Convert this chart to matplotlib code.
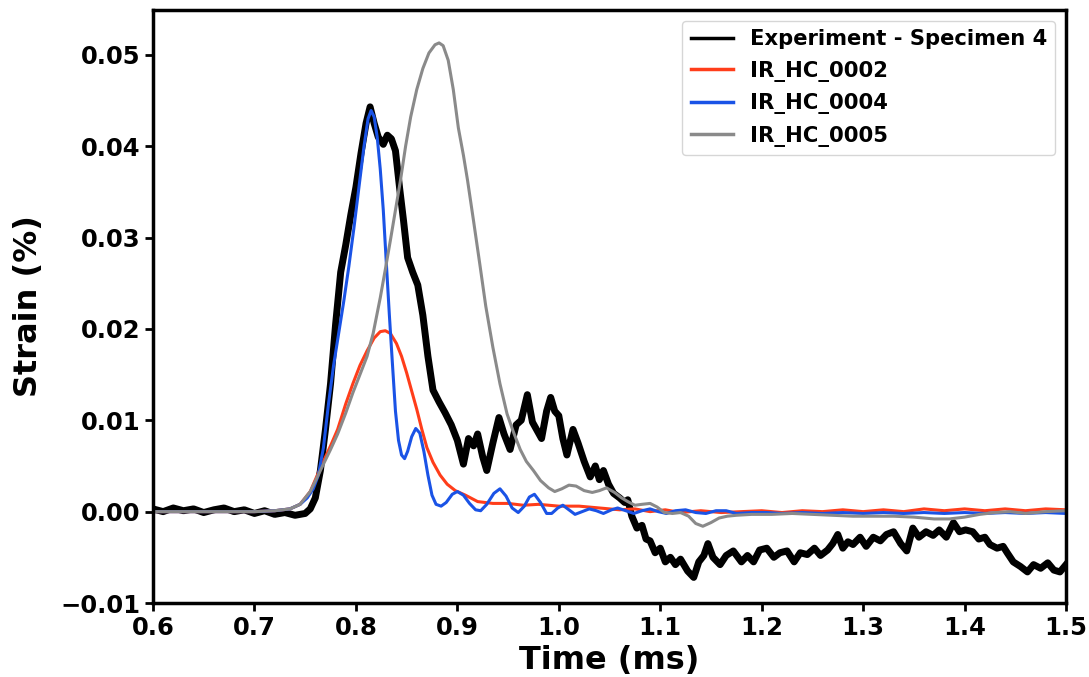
import matplotlib
matplotlib.use('Agg')
import matplotlib.pyplot as plt

# Experiment - Specimen 4 (time in ms, strain in %)
exp_t = [0.600, 0.610, 0.620, 0.630, 0.640, 0.650, 0.660, 0.670, 0.680, 0.690,
         0.700, 0.710, 0.720, 0.730, 0.740, 0.750, 0.755, 0.760, 0.765, 0.770,
         0.775, 0.780, 0.785, 0.790, 0.795, 0.800, 0.805, 0.810, 0.814, 0.818,
         0.822, 0.827, 0.831, 0.835, 0.839, 0.843, 0.847, 0.851, 0.856, 0.861,
         0.866, 0.871, 0.876, 0.882, 0.888, 0.894, 0.900, 0.906, 0.911, 0.916,
         0.920, 0.925, 0.929, 0.935, 0.941, 0.946, 0.952, 0.958, 0.963, 0.969,
         0.974, 0.979, 0.983, 0.988, 0.992, 0.996, 1.000, 1.004, 1.008, 1.014,
         1.019, 1.025, 1.031, 1.036, 1.040, 1.044, 1.049, 1.054, 1.060, 1.065,
         1.068, 1.072, 1.077, 1.082, 1.086, 1.090, 1.095, 1.100, 1.105, 1.110,
         1.115, 1.120, 1.127, 1.133, 1.138, 1.143, 1.147, 1.152, 1.159, 1.165,
         1.172, 1.180, 1.186, 1.192, 1.198, 1.205, 1.212, 1.218, 1.225, 1.232,
         1.238, 1.245, 1.252, 1.258, 1.265, 1.270, 1.275, 1.280, 1.285, 1.290,
         1.297, 1.303, 1.310, 1.317, 1.323, 1.330, 1.337, 1.343, 1.349, 1.355,
         1.362, 1.369, 1.375, 1.382, 1.389, 1.395, 1.401, 1.408, 1.414, 1.420,
         1.425, 1.432, 1.438, 1.442, 1.448, 1.455, 1.462, 1.468, 1.475, 1.482,
         1.488, 1.494, 1.500]
exp_s = [0.0003, 0.0000, 0.0004, 0.0001, 0.0003, -0.0001, 0.0002, 0.0004, 0.0000, 0.0002,
         -0.0002, 0.0001, -0.0003, -0.0001, -0.0004, -0.0002, 0.0003, 0.0015, 0.0045, 0.0090,
         0.0140, 0.0205, 0.0262, 0.0292, 0.0325, 0.0355, 0.0392, 0.0425, 0.0443, 0.0425,
         0.0410, 0.0402, 0.0412, 0.0408, 0.0395, 0.0355, 0.0318, 0.0278, 0.0262, 0.0248,
         0.0215, 0.0170, 0.0133, 0.0120, 0.0108, 0.0095, 0.0078, 0.0052, 0.0080, 0.0072,
         0.0085, 0.0060, 0.0045, 0.0075, 0.0103, 0.0085, 0.0068, 0.0095, 0.0100, 0.0128,
         0.0098, 0.0088, 0.0080, 0.0110, 0.0125, 0.0110, 0.0105, 0.0080, 0.0062, 0.0090,
         0.0075, 0.0055, 0.0038, 0.0050, 0.0035, 0.0045, 0.0030, 0.0020, 0.0015, 0.0010,
         0.0013, -0.0005, -0.0018, -0.0015, -0.0030, -0.0032, -0.0045, -0.0040, -0.0055, -0.0050,
         -0.0058, -0.0052, -0.0065, -0.0072, -0.0055, -0.0048, -0.0035, -0.0050, -0.0058, -0.0048,
         -0.0043, -0.0055, -0.0048, -0.0055, -0.0042, -0.0040, -0.0050, -0.0045, -0.0043, -0.0055,
         -0.0045, -0.0047, -0.0040, -0.0048, -0.0042, -0.0035, -0.0025, -0.0040, -0.0033, -0.0036,
         -0.0028, -0.0038, -0.0028, -0.0032, -0.0025, -0.0022, -0.0035, -0.0043, -0.0018, -0.0028,
         -0.0022, -0.0026, -0.0020, -0.0028, -0.0012, -0.0022, -0.0020, -0.0022, -0.0030, -0.0028,
         -0.0036, -0.0040, -0.0038, -0.0045, -0.0055, -0.0060, -0.0066, -0.0058, -0.0062, -0.0056,
         -0.0064, -0.0066, -0.0058]

# IR_HC_0002
hc2_t = [0.600, 0.700, 0.720, 0.735, 0.745, 0.755, 0.762, 0.768, 0.775, 0.782,
         0.790, 0.797, 0.804, 0.811, 0.818, 0.824, 0.829, 0.834, 0.840, 0.845,
         0.850, 0.855, 0.860, 0.865, 0.870, 0.876, 0.883, 0.890, 0.898, 0.908,
         0.920, 0.935, 0.950, 0.965, 0.980, 1.000, 1.020, 1.040, 1.060, 1.075,
         1.090, 1.105, 1.120, 1.140, 1.160, 1.180, 1.200, 1.220, 1.240, 1.260,
         1.280, 1.300, 1.320, 1.340, 1.360, 1.380, 1.400, 1.420, 1.440, 1.460,
         1.480, 1.500]
hc2_s = [0.0, 0.0, 0.0001, 0.0003, 0.0008, 0.0022, 0.0040, 0.0055, 0.0072, 0.0090,
         0.0118, 0.0140, 0.0160, 0.0176, 0.0190, 0.0197, 0.0198, 0.0195, 0.0184, 0.0170,
         0.0152, 0.0132, 0.0112, 0.0090, 0.0070, 0.0054, 0.0040, 0.0030, 0.0023, 0.0018,
         0.0011, 0.0009, 0.0009, 0.0007, 0.0008, 0.0006, 0.0006, 0.0004, 0.0002, 0.0003,
         0.0000, 0.0002, -0.0001, 0.0001, -0.0001, 0.0000, 0.0001, -0.0001, 0.0001, 0.0000,
         0.0002, 0.0000, 0.0002, 0.0000, 0.0003, 0.0001, 0.0003, 0.0001, 0.0003, 0.0001,
         0.0003, 0.0002]

# IR_HC_0004
hc4_t = [0.600, 0.700, 0.720, 0.735, 0.745, 0.752, 0.758, 0.763, 0.768, 0.773,
         0.778, 0.783, 0.788, 0.793, 0.798, 0.803, 0.808, 0.812, 0.815, 0.818,
         0.821, 0.824, 0.827, 0.830, 0.833, 0.836, 0.839, 0.842, 0.845, 0.848,
         0.851, 0.855, 0.859, 0.863, 0.867, 0.871, 0.875, 0.879, 0.884, 0.889,
         0.895, 0.900, 0.906, 0.912, 0.918, 0.923, 0.929, 0.936, 0.942, 0.948,
         0.954, 0.960, 0.966, 0.971, 0.976, 0.982, 0.988, 0.993, 0.999, 1.004,
         1.010, 1.016, 1.023, 1.030, 1.037, 1.044, 1.052, 1.058, 1.066, 1.074,
         1.082, 1.090, 1.098, 1.106, 1.115, 1.125, 1.135, 1.145, 1.155, 1.165,
         1.175, 1.190, 1.205, 1.220, 1.240, 1.260, 1.280, 1.300, 1.320, 1.340,
         1.360, 1.380, 1.400, 1.420, 1.440, 1.460, 1.480, 1.500]
hc4_s = [0.0, 0.0, 0.0001, 0.0003, 0.0008, 0.0015, 0.0025, 0.0040, 0.0070, 0.0118,
         0.0160, 0.0195, 0.0230, 0.0268, 0.0310, 0.0355, 0.0400, 0.0430, 0.0439, 0.0432,
         0.0410, 0.0375, 0.0330, 0.0272, 0.0215, 0.0162, 0.0110, 0.0078, 0.0062, 0.0058,
         0.0066, 0.0082, 0.0091, 0.0086, 0.0066, 0.0040, 0.0018, 0.0008, 0.0006, 0.0010,
         0.0019, 0.0022, 0.0018, 0.0009, 0.0002, 0.0001, 0.0008, 0.0020, 0.0025, 0.0017,
         0.0004, -0.0001, 0.0006, 0.0016, 0.0019, 0.0010, -0.0002, -0.0002, 0.0004, 0.0007,
         0.0002, -0.0003, 0.0000, 0.0003, 0.0001, -0.0002, 0.0002, 0.0004, 0.0001, -0.0002,
         0.0001, 0.0003, 0.0000, -0.0002, 0.0001, 0.0002, -0.0001, -0.0002, 0.0001, 0.0001,
         -0.0002, -0.0001, -0.0001, -0.0002, -0.0001, -0.0002, -0.0001, -0.0002, -0.0001, -0.0002,
         -0.0001, -0.0002, -0.0001, -0.0002, -0.0001, -0.0002, -0.0001, -0.0002]

# IR_HC_0005
hc5_t = [0.600, 0.700, 0.720, 0.735, 0.745, 0.755, 0.762, 0.768, 0.775, 0.782,
         0.790, 0.797, 0.804, 0.811, 0.817, 0.824, 0.829, 0.834, 0.839, 0.844,
         0.849, 0.854, 0.860, 0.866, 0.872, 0.878, 0.882, 0.886, 0.891, 0.896,
         0.901, 0.906, 0.910, 0.916, 0.922, 0.928, 0.935, 0.942, 0.949, 0.955,
         0.962, 0.968, 0.975, 0.982, 0.990, 0.996, 1.003, 1.010, 1.017, 1.025,
         1.033, 1.040, 1.047, 1.055, 1.062, 1.068, 1.075, 1.082, 1.090, 1.097,
         1.104, 1.112, 1.120, 1.128, 1.135, 1.142, 1.150, 1.158, 1.166, 1.175,
         1.190, 1.210, 1.230, 1.250, 1.270, 1.290, 1.310, 1.330, 1.350, 1.370,
         1.385, 1.400, 1.415, 1.430, 1.445, 1.460, 1.480, 1.500]
hc5_s = [0.0, 0.0, 0.0001, 0.0003, 0.0008, 0.0022, 0.0038, 0.0052, 0.0068, 0.0085,
         0.0108, 0.0130, 0.0150, 0.0170, 0.0195, 0.0234, 0.0265, 0.0297, 0.0330, 0.0363,
         0.0400, 0.0432, 0.0462, 0.0485, 0.0502, 0.0511, 0.0513, 0.0510, 0.0494, 0.0462,
         0.0420, 0.0390, 0.0363, 0.0318, 0.0272, 0.0225, 0.0180, 0.0140, 0.0107, 0.0088,
         0.0068, 0.0055, 0.0045, 0.0034, 0.0026, 0.0022, 0.0025, 0.0029, 0.0028, 0.0023,
         0.0021, 0.0023, 0.0026, 0.0021, 0.0015, 0.0011, 0.0007, 0.0008, 0.0009, 0.0005,
         -0.0001, -0.0002, -0.0001, -0.0005, -0.0013, -0.0016, -0.0012, -0.0007, -0.0005, -0.0004,
         -0.0003, -0.0003, -0.0002, -0.0003, -0.0004, -0.0005, -0.0005, -0.0005, -0.0006, -0.0008,
         -0.0008, -0.0006, -0.0003, -0.0001, 0.0000, -0.0002, 0.0000, 0.0001]

x_ticks = [0.6, 0.7, 0.8, 0.9, 1.0, 1.1, 1.2, 1.3, 1.4, 1.5]
y_ticks = [-0.01, 0.00, 0.01, 0.02, 0.03, 0.04, 0.05]


def main():
    fig = plt.figure(figsize=(10.89, 6.77), dpi=100)
    ax = fig.add_axes([0.1405, 0.1093, 0.8384, 0.8759])

    ax.plot(exp_t, exp_s, color='black', lw=5, solid_joinstyle='round',
            label='Experiment - Specimen 4')
    ax.plot(hc2_t, hc2_s, color='#ff3d1a', lw=2.2, label='IR_HC_0002')
    ax.plot(hc4_t, hc4_s, color='#1a53e6', lw=2.2, label='IR_HC_0004')
    ax.plot(hc5_t, hc5_s, color='#8a8a8a', lw=2.2, label='IR_HC_0005')

    ax.set_xlim(0.6, 1.5)
    ax.set_ylim(-0.01, 0.0549)
    ax.set_xticks(x_ticks)
    ax.set_yticks(y_ticks)
    ax.set_xticklabels(['%.1f' % t for t in x_ticks], fontsize=17.5, fontweight='bold')
    ax.set_yticklabels(['%.2f' % t if t >= 0 else '\u22120.01' for t in y_ticks],
                       fontsize=17.5, fontweight='bold')
    ax.tick_params(width=2, length=6, pad=3)
    for sp in ax.spines.values():
        sp.set_linewidth(2.5)

    ax.set_xlabel('Time (ms)', fontsize=23, fontweight='bold', labelpad=4)
    ax.set_ylabel('Strain (%)', fontsize=23, fontweight='bold', labelpad=12)

    leg = ax.legend(loc='upper right', prop={'size': 15.2, 'weight': 'bold'},
                    borderaxespad=0.5, handlelength=2.0, labelspacing=0.55)
    for line in leg.get_lines():
        line.set_linewidth(2.5)

    fig.savefig('out.png', dpi=100)


if __name__ == "__main__":
    main()
